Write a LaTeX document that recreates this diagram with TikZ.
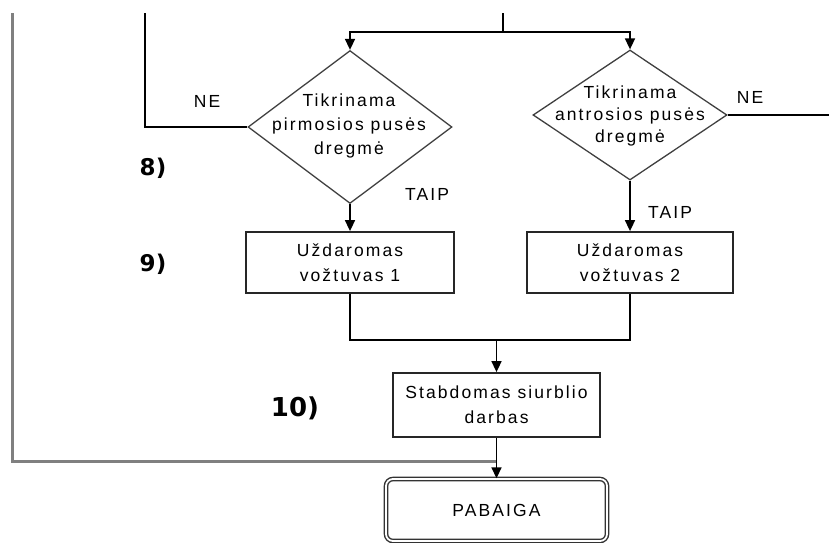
\documentclass[tikz,border=0pt]{standalone}
\usepackage{fontspec}
\setmainfont{Liberation Sans}[LetterSpace=12]
\newfontfamily\numfont{DejaVu Sans}
\usetikzlibrary{shapes.geometric,arrows.meta}
\begin{document}
\begin{tikzpicture}[x=1pt,y=-1pt,
  dia/.style={diamond, draw=black!75, line width=1.3pt, inner sep=0pt},
  txt/.style={font=\fontsize{17.5}{24}\selectfont, align=center, inner sep=0pt},
  proc/.style={rectangle, draw=black!85, line width=1.8pt, inner sep=0pt, align=center, font=\fontsize{17.5}{25}\selectfont},
  term/.style={rectangle, rounded corners=7pt, draw=black!80, double=white, double distance=1.8pt, line width=1.4pt, inner sep=0pt, font=\fontsize{17.5}{20}\selectfont},
  lab/.style={font=\fontsize{17.5}{20}\selectfont, inner sep=0pt},
  num/.style={font=\numfont\bfseries\fontsize{23}{28}\selectfont, inner sep=0pt},
  conn/.style={line width=1.6pt, black},
  arr/.style={conn, -{Triangle[length=11pt,width=10pt]}},
  grayline/.style={line width=3pt, black!50}]
\useasboundingbox (0,0) rectangle (829,542);

% shapes
\node[dia, minimum width=204pt, minimum height=153pt] (d1) at (350,127) {};
\node[txt] (t1) at (349,126) {Tikrinama\\pirmosios pusės\\dregmė};
\node[dia, minimum width=194pt, minimum height=130pt] (d2) at (630,115) {};
\node[txt, font=\fontsize{17.5}{22}\selectfont] (t2) at (630,116) {Tikrinama\\antrosios pusės\\dregmė};
\node[proc, minimum width=208pt, minimum height=61pt] (b1) at (350,262.5) {Uždaromas\\vožtuvas 1};
\node[proc, minimum width=206pt, minimum height=61pt] (b2) at (630,262.5) {Uždaromas\\vožtuvas 2};
\node[proc, minimum width=207pt, minimum height=64pt] (b3) at (496.5,405) {Stabdomas siurblio\\darbas};
\node[term, minimum width=221pt, minimum height=62pt] (end) at (496.5,510) {PABAIGA};

% labels
\node[lab] (ne1) at (207,101) {NE};
\node[lab] (ne2) at (750,97) {NE};
\node[lab] (taip1) at (427,194) {TAIP};
\node[lab] (taip2) at (670,212) {TAIP};
\node[num] (n8) at (153,168) {8)};
\node[num] (n9) at (153,264) {9)};
\node[num, font=\numfont\bfseries\fontsize{26}{30}\selectfont] (n10) at (295,408) {10)};

% coordinates
\coordinate (top) at (503,13);
\coordinate (split) at (503,32);
\coordinate (lt) at (145,13);
\coordinate (rt) at (829,118);
\coordinate (ll) at (12,13);
\coordinate (j) at (496.5,461);
\coordinate (m) at (496.5,340);

% connectors
\draw[conn] (top) -- (split);
\draw[arr] (split) -| (d1.north);
\draw[arr] (split) -| (d2.north);
\draw[conn] (lt) |- (d1.west);
\draw[conn] (d2.east) -- (d2.east -| rt);
\draw[arr] (d1.south) -- (b1.north);
\draw[arr] (d2.south) -- (b2.north);
\draw[conn] (b1.south) -- (b1.south |- m) -- (b2.south |- m) -- (b2.south);
\draw[arr] (m) -- (b3.north);
\draw[grayline] (ll) |- (j);
\draw[arr] (b3.south) -- (end.north);
\end{tikzpicture}
\end{document}
